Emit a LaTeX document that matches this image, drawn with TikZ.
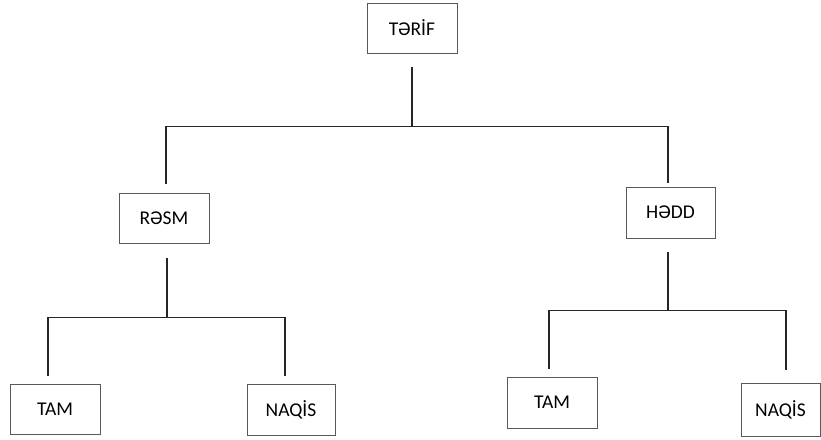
\documentclass[tikz,border=0pt]{standalone}
\usepackage{fontspec}
\setmainfont{Carlito}
\begin{document}
\begin{tikzpicture}[x=1pt,y=-1pt,
  box/.style={draw=black!65, line width=0.9pt, minimum width=90pt, minimum height=50pt, inner sep=0pt, font=\fontsize{19.5}{21}\selectfont},
  link/.style={draw=black!85, line width=1.3pt}]
\useasboundingbox (0,0) rectangle (821,439);
\node [box] (terif) at (412,28) {TƏRİF};
\node [box] (resm) at (164,218) {RƏSM};
\node [box, minimum width=89pt, minimum height=51pt] (hedd) at (670.5,212.5) {HƏDD};
\node [box] (tam1) at (55,409) {TAM};
\node [box, minimum width=88pt, minimum height=51pt] (naqis1) at (291,409.5) {NAQİS};
\node [box, minimum height=51pt] (tam2) at (552,402.5) {TAM};
\node [box, minimum width=79pt, minimum height=53pt] (naqis2) at (780.5,409.5) {NAQİS};
% top level
\draw [link] ([yshift=-14pt]terif.south) -- ++(0,59) coordinate (tj);
\draw [link] ([xshift=2pt,yshift=9pt]resm.north) |- (tj) -| ([xshift=-2.5pt,yshift=4pt]hedd.north);
% left branch
\draw [link] ([xshift=3pt,yshift=-15pt]resm.south) -- ++(0,59) coordinate (rj);
\draw [link] ([xshift=-7pt,yshift=8pt]tam1.north) |- (rj) -| ([xshift=-6pt,yshift=8pt]naqis1.north);
% right branch
\draw [link] ([xshift=-2.5pt,yshift=-14pt]hedd.south) -- ++(0,58) coordinate (hj);
\draw [link] ([xshift=-3pt,yshift=8pt]tam2.north) |- (hj) -| ([xshift=5.5pt,yshift=13pt]naqis2.north);
\end{tikzpicture}
\end{document}
